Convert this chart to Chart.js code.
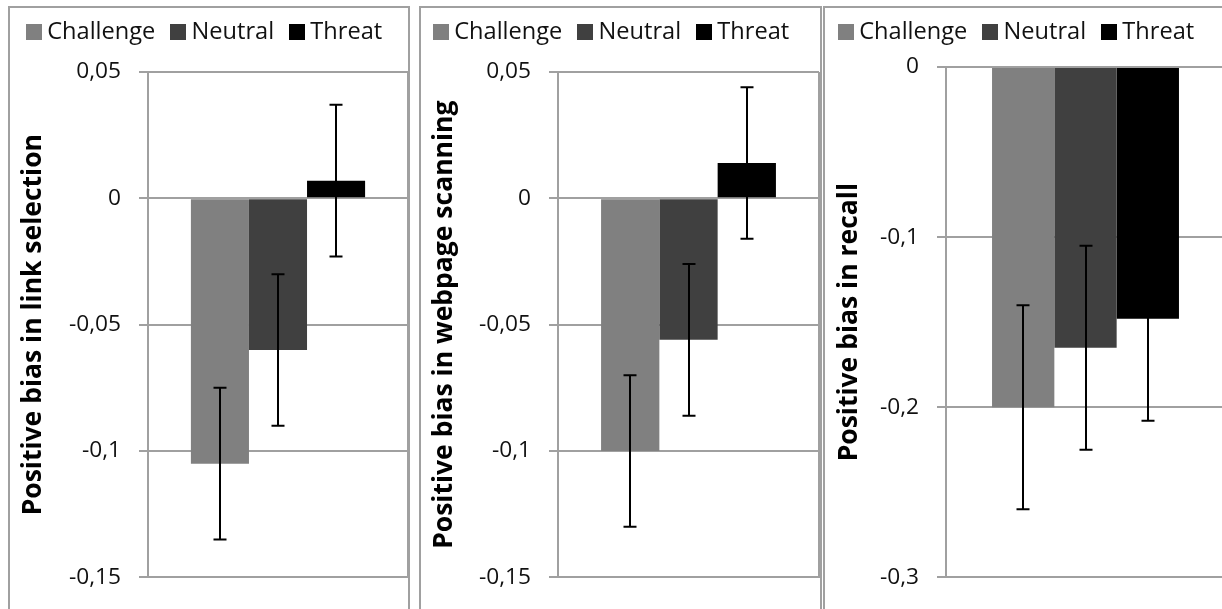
<!DOCTYPE html>
<html>
<head>
<meta charset="utf-8">
<script src="https://cdn.jsdelivr.net/npm/chart.js@4.4.1/dist/chart.umd.min.js"></script>
<style>
  html, body { margin: 0; padding: 0; background: #fff; overflow: hidden; }
  body { width: 1222px; height: 609px; position: relative; font-family: 'Open Sans', sans-serif; }
  .panel { position: absolute; top: 6px; height: 640px; border: 2px solid #a0a0a0; box-sizing: border-box; }
  canvas { position: absolute; top: 8px; }
  .legend { position: absolute; top: 19px; display: flex; align-items: flex-start; white-space: nowrap;
            font-size: 23.6px; line-height: 1; color: #111; }
  .legend .item { display: flex; align-items: flex-start; margin-right: 15px; }
  .legend .box { width: 15.7px; height: 15.7px; margin-top: 5px; margin-right: 5.5px; }
</style>
</head>
<body>
<div class="panel" style="left:8px;width:402px"></div>
<div class="panel" style="left:419px;width:403px"></div>
<div class="panel" style="left:823px;width:420px"></div>

<canvas id="chart-link" width="398" height="601" style="left:10px"></canvas>
<canvas id="chart-scan" width="399" height="601" style="left:421px"></canvas>
<canvas id="chart-recall" width="401" height="601" style="left:825px"></canvas>

<div class="legend" id="legend-link" style="left:26px"></div>
<div class="legend" id="legend-scan" style="left:433px"></div>
<div class="legend" id="legend-recall" style="left:838px"></div>

<script>
// data
const categories = [''];
const seriesNames = ['Challenge', 'Neutral', 'Threat'];
const seriesColors = ['#808080', '#404040', '#000000'];

const linkValues = [-0.105, -0.06, 0.007];
const linkErrors = [0.03, 0.03, 0.03];
const scanValues = [-0.1, -0.056, 0.014];
const scanErrors = [0.03, 0.03, 0.03];
const recallValues = [-0.2, -0.165, -0.148];
const recallErrors = [0.06, 0.06, 0.06];

const biasTicks = [-0.15, -0.1, -0.05, 0, 0.05];
const biasTickLabels = ['-0,15', '-0,1', '-0,05', '0', '0,05'];
const recallTicks = [-0.3, -0.2, -0.1, 0];
const recallTickLabels = ['-0,3', '-0,2', '-0,1', '0'];

const GRID = '#a0a0a0';
const FONT = 'Open Sans';

// draws the +/- error whiskers on top of the bars
const errorBars = {
  id: 'errorBars',
  afterDatasetsDraw(chart) {
    const ctx = chart.ctx;
    const yScale = chart.scales.y;
    ctx.save();
    ctx.strokeStyle = '#000';
    ctx.lineWidth = 2;
    chart.data.datasets.forEach((ds, i) => {
      chart.getDatasetMeta(i).data.forEach((bar, j) => {
        const v = ds.data[j], e = ds.errors[j];
        const yTop = yScale.getPixelForValue(v + e);
        const yBot = yScale.getPixelForValue(v - e);
        const x = Math.round(bar.x);
        ctx.beginPath();
        ctx.moveTo(x, yTop); ctx.lineTo(x, yBot);
        ctx.moveTo(x - 6.5, yTop); ctx.lineTo(x + 6.5, yTop);
        ctx.moveTo(x - 6.5, yBot); ctx.lineTo(x + 6.5, yBot);
        ctx.stroke();
      });
    });
    ctx.restore();
  }
};

function makeChart(id, values, errors, title, ticks, tickLabels, axisWidth, pad, titlePad) {
  new Chart(id, {
    type: 'bar',
    data: {
      labels: categories,
      datasets: seriesNames.map((name, i) => ({
        label: name,
        data: [values[i]],
        errors: [errors[i]],
        backgroundColor: seriesColors[i],
        borderWidth: 0,
        categoryPercentage: 0.67,
        barPercentage: 1
      }))
    },
    options: {
      responsive: false,
      animation: false,
      layout: { padding: pad },
      plugins: { legend: { display: false }, tooltip: { enabled: false } },
      scales: {
        x: {
          ticks: { display: false },
          grid: { color: GRID, lineWidth: 2, drawTicks: false },
          border: { display: true, color: GRID, width: 2 }
        },
        y: {
          min: ticks[0],
          max: ticks[ticks.length - 1],
          afterBuildTicks: s => { s.ticks = ticks.map(v => ({ value: v })); },
          afterFit: s => { s.width = axisWidth; },
          ticks: {
            callback: v => tickLabels[ticks.indexOf(v)],
            font: { family: FONT, size: 22.7 },
            color: '#111',
            padding: 18
          },
          grid: { color: GRID, lineWidth: 2, tickLength: 9 },
          border: { color: GRID, width: 2 },
          title: {
            display: true,
            text: title,
            color: '#000',
            font: { family: FONT, size: 26.5, weight: 'bold' },
            padding: { top: titlePad, bottom: 0 }
          }
        }
      }
    },
    plugins: [errorBars]
  });
}

function makeLegend(id) {
  const el = document.getElementById(id);
  seriesNames.forEach((name, i) => {
    const item = document.createElement('div');
    item.className = 'item';
    const box = document.createElement('span');
    box.className = 'box';
    box.style.background = seriesColors[i];
    const txt = document.createElement('span');
    txt.textContent = name;
    item.appendChild(box);
    item.appendChild(txt);
    el.appendChild(item);
  });
}

makeChart('chart-link', linkValues, linkErrors, 'Positive bias in link selection',
  biasTicks, biasTickLabels, 138, { top: 64, bottom: 27, left: 0, right: 0 }, 7.5);
makeChart('chart-scan', scanValues, scanErrors, 'Positive bias in webpage scanning',
  biasTicks, biasTickLabels, 137, { top: 64, bottom: 27, left: 0, right: 1 }, 7.5);
makeChart('chart-recall', recallValues, recallErrors, 'Positive bias in recall',
  recallTicks, recallTickLabels, 121, { top: 59, bottom: 27, left: 0, right: 1 }, 9);

makeLegend('legend-link');
makeLegend('legend-scan');
makeLegend('legend-recall');
</script>
</body>
</html>
